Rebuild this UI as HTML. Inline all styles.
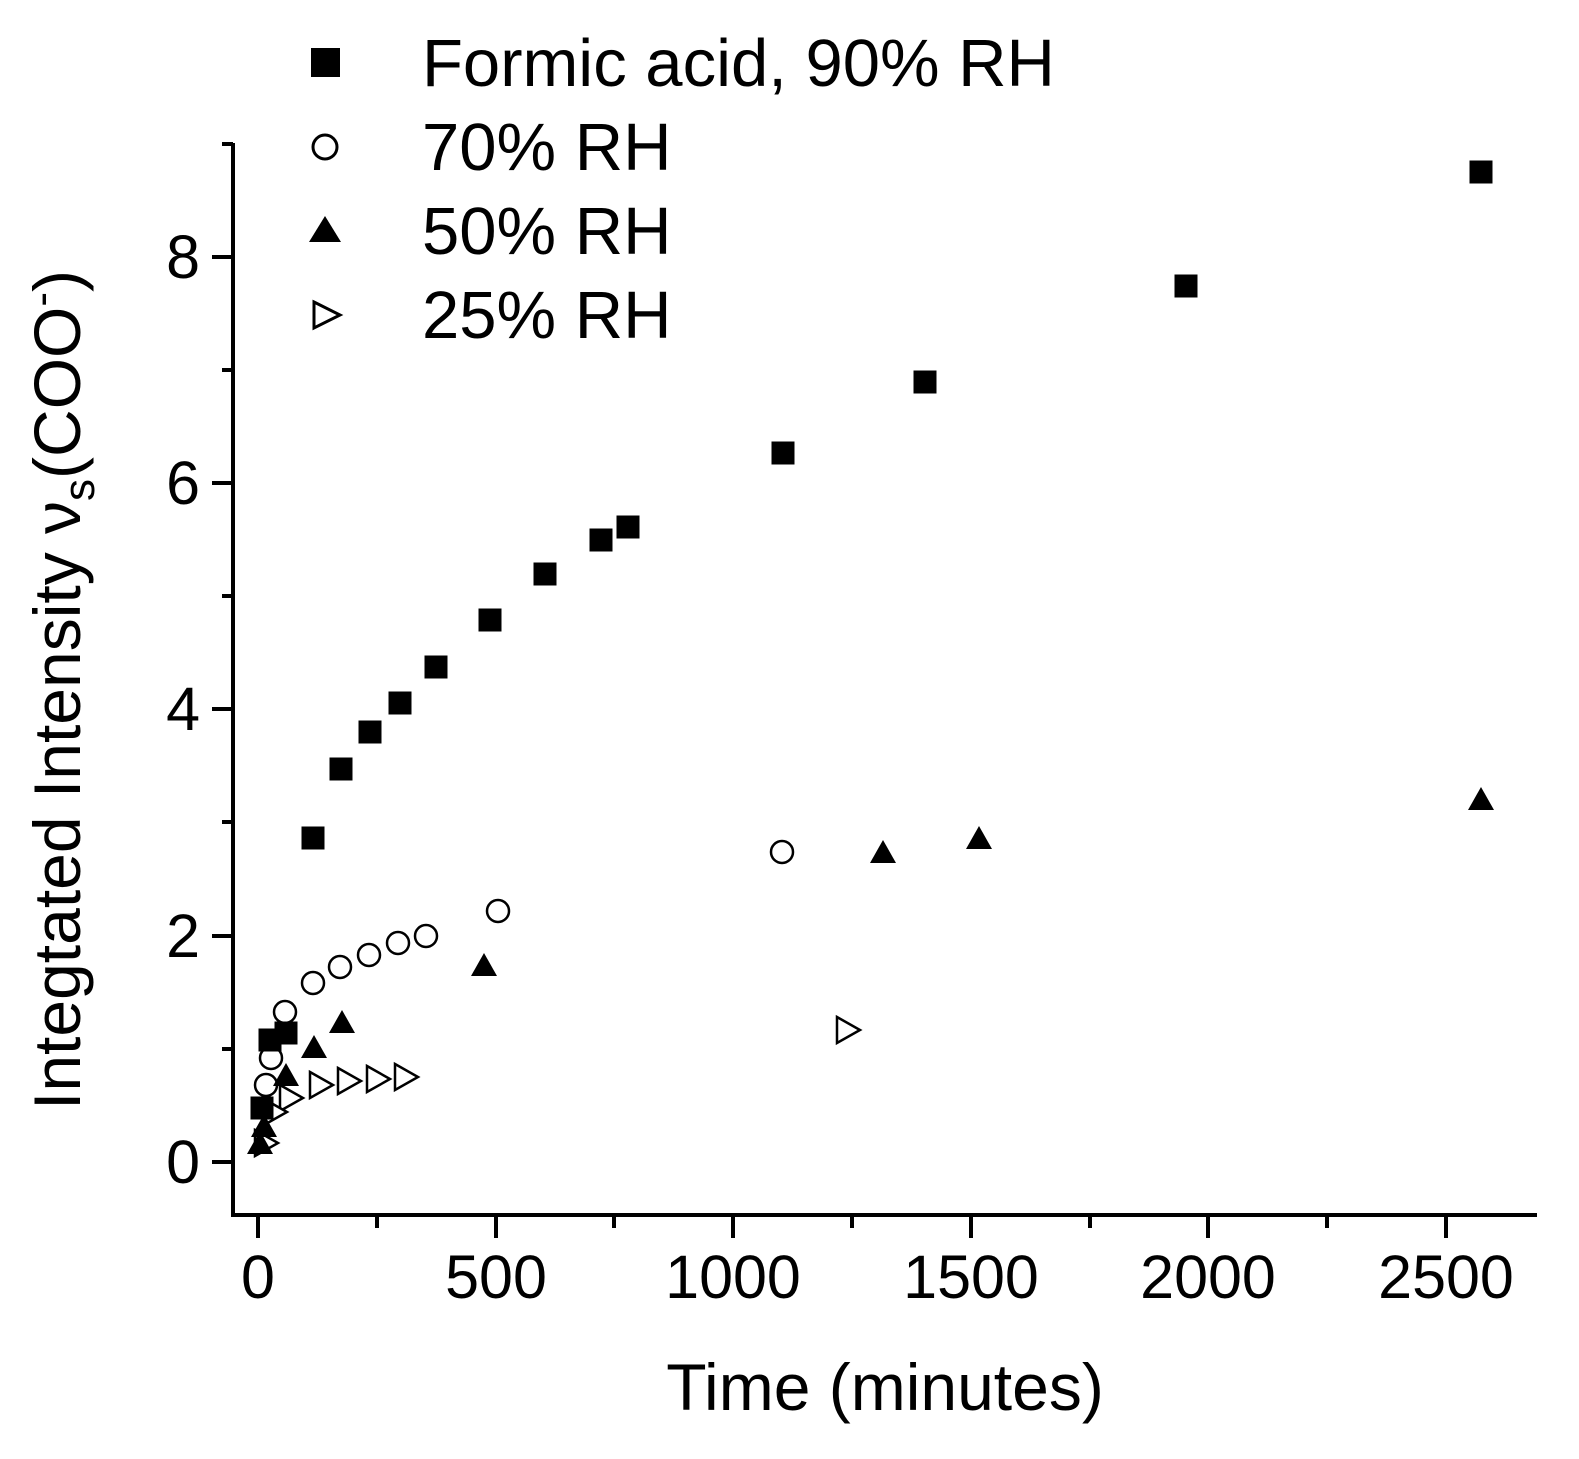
<!DOCTYPE html>
<html><head><style>body{margin:0;background:#fff}svg{display:block}</style></head>
<body>
<svg width="1579" height="1459" xmlns="http://www.w3.org/2000/svg" font-family="Liberation Sans, sans-serif">
<rect width="1579" height="1459" fill="#fff"/>
<defs>
<rect id="sq" x="-11.5" y="-11.5" width="23" height="23" fill="#000"/>
<circle id="ci" r="11" fill="#fff" stroke="#000" stroke-width="2.5"/>
<path id="tu" d="M0,-13 L13,10 L-13,10 Z" fill="#000"/>
<path id="tr" d="M-10,-13 L13,0 L-10,13 Z" fill="#fff" stroke="#000" stroke-width="2.5"/>
</defs>
<g stroke="#000" stroke-width="4" fill="none">
<path d="M233,143 L233,1215 L1537,1215"/>
<path d="M212,257 L233,257 M212,483 L233,483 M212,709 L233,709 M212,936 L233,936 M212,1162 L233,1162"/>
<path d="M222,144 L233,144 M222,370 L233,370 M222,596 L233,596 M222,822 L233,822 M222,1049 L233,1049"/>
<path d="M258,1215 L258,1238 M496,1215 L496,1238 M733,1215 L733,1238 M971,1215 L971,1238 M1208,1215 L1208,1238 M1446,1215 L1446,1238"/>
<path d="M377,1215 L377,1228 M614,1215 L614,1228 M852,1215 L852,1228 M1090,1215 L1090,1228 M1327,1215 L1327,1228"/>
</g>
<g font-size="61" text-anchor="end">
<text x="200" y="278">8</text><text x="200" y="504">6</text><text x="200" y="730">4</text><text x="200" y="957">2</text><text x="200" y="1183">0</text>
</g>
<g font-size="61" text-anchor="middle">
<text x="258" y="1298">0</text><text x="496" y="1298">500</text><text x="733" y="1298">1000</text><text x="971" y="1298">1500</text><text x="1208" y="1298">2000</text><text x="1446" y="1298">2500</text>
</g>
<text x="885" y="1410" font-size="66" text-anchor="middle">Time (minutes)</text>
<text transform="translate(80,690) rotate(-90)" font-size="66" text-anchor="middle">Integtated Intensity ν<tspan font-size="44" dy="14">s</tspan><tspan dy="-14">(COO</tspan><tspan font-size="44" dy="-24">-</tspan><tspan dy="24">)</tspan></text>
<g font-size="67">
<text x="422" y="86">Formic acid, 90% RH</text>
<text x="422" y="170">70% RH</text>
<text x="422" y="254">50% RH</text>
<text x="422" y="338">25% RH</text>
</g>
<rect x="311" y="48" width="29" height="29" fill="#000"/>
<circle cx="325" cy="147" r="12" fill="#fff" stroke="#000" stroke-width="3"/>
<path d="M325,216 L341,242 L309,242 Z" fill="#000"/>
<path d="M314,302 L340,315 L314,328 Z" fill="#fff" stroke="#000" stroke-width="3"/>
<g>
<use href="#tr" x="847" y="1030"/><use href="#tr" x="405" y="1077"/><use href="#tr" x="377" y="1079"/><use href="#tr" x="348" y="1081"/><use href="#tr" x="320" y="1085"/><use href="#tr" x="290" y="1098"/><use href="#tr" x="274" y="1112"/><use href="#tr" x="265" y="1143"/>
<use href="#ci" x="782" y="852"/><use href="#ci" x="498" y="911"/><use href="#ci" x="426" y="936"/><use href="#ci" x="398" y="943"/><use href="#ci" x="369" y="955"/><use href="#ci" x="340" y="967"/><use href="#ci" x="313" y="983"/><use href="#ci" x="285" y="1012"/><use href="#ci" x="271" y="1058"/><use href="#ci" x="266" y="1085"/>
<use href="#tu" x="1481" y="800"/><use href="#tu" x="979" y="839"/><use href="#tu" x="883" y="853"/><use href="#tu" x="484" y="966"/><use href="#tu" x="342" y="1023"/><use href="#tu" x="314" y="1048"/><use href="#tu" x="286" y="1076"/><use href="#tu" x="264" y="1127"/><use href="#tu" x="260" y="1144"/>
<use href="#sq" x="313" y="838"/><use href="#sq" x="341" y="769"/><use href="#sq" x="370" y="732"/><use href="#sq" x="400" y="703"/><use href="#sq" x="436" y="667"/><use href="#sq" x="490" y="620"/><use href="#sq" x="545" y="574"/><use href="#sq" x="601" y="540"/><use href="#sq" x="628" y="527"/><use href="#sq" x="783" y="453"/><use href="#sq" x="925" y="382"/><use href="#sq" x="1186" y="286"/><use href="#sq" x="1481" y="172"/>
<use href="#sq" x="270" y="1040"/><use href="#sq" x="286" y="1033"/><use href="#sq" x="262" y="1108"/>
</g>
</svg>
</body></html>
